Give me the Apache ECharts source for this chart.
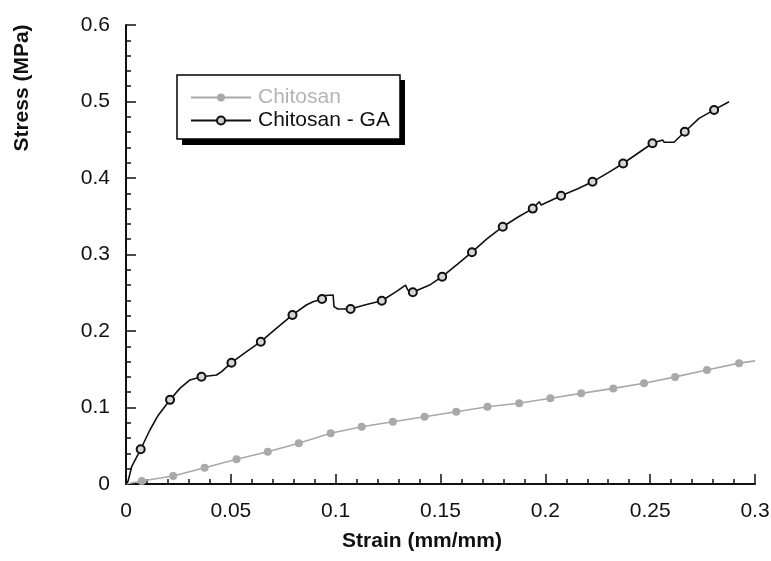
<!DOCTYPE html>
<html>
<head>
<meta charset="utf-8">
<script src="https://cdn.jsdelivr.net/npm/echarts@6/dist/echarts.min.js"></script>
<style>
  html, body { margin: 0; padding: 0; background: #fff; }
  #chart { width: 771px; height: 561px; }
</style>
</head>
<body>
<div id="chart"></div>
<script>
// Tensile curves: stress vs. strain for plain chitosan and GA-crosslinked chitosan films

// Chitosan: continuous curve and its marked points
const chiStrain = [0, 0.0075, 0.0225, 0.0375, 0.0527, 0.0676, 0.0824, 0.0976, 0.1124, 0.1273, 0.1424,
  0.1575, 0.1724, 0.1875, 0.2024, 0.2171, 0.2324, 0.2471, 0.2619, 0.2771, 0.2924, 0.3];
const chiStress = [0, 0.004, 0.0105, 0.0213, 0.0323, 0.0422, 0.0532, 0.0663, 0.0749, 0.0814, 0.088,
  0.0945, 0.101, 0.1055, 0.112, 0.1185, 0.125, 0.1316, 0.140, 0.149, 0.158, 0.161];
const chiMarkStrain = [0.0075, 0.0225, 0.0375, 0.0527, 0.0676, 0.0824, 0.0976, 0.1124, 0.1273, 0.1424,
  0.1575, 0.1724, 0.1875, 0.2024, 0.2171, 0.2324, 0.2471, 0.2619, 0.2771, 0.2924];
const chiMarkStress = [0.004, 0.0105, 0.0213, 0.0323, 0.0422, 0.0532, 0.0663, 0.0749, 0.0814, 0.088,
  0.0945, 0.101, 0.1055, 0.112, 0.1185, 0.125, 0.1316, 0.140, 0.149, 0.158];

// Chitosan - GA: continuous curve (with its load drops) and its marked points
const gaStrain = [0, 0.001, 0.0027, 0.007, 0.0114, 0.0154, 0.021, 0.0257, 0.0305, 0.036, 0.0432, 0.0456,
  0.0503, 0.0575, 0.0643, 0.0717, 0.0794, 0.086, 0.0892, 0.0935, 0.095, 0.0988, 0.0992, 0.101, 0.1071,
  0.1138, 0.122, 0.1289, 0.1333, 0.1344, 0.1368, 0.1448, 0.1508, 0.158, 0.165, 0.172, 0.1797, 0.187,
  0.194, 0.1971, 0.198, 0.2075, 0.2155, 0.2225, 0.230, 0.2371, 0.240, 0.2511, 0.2559, 0.2567, 0.2614,
  0.2665, 0.2733, 0.2805, 0.2876];
const gaStress = [0, 0.004, 0.0226, 0.0454, 0.0706, 0.090, 0.110, 0.125, 0.136, 0.1403, 0.1425, 0.147,
  0.1586, 0.173, 0.186, 0.2035, 0.221, 0.234, 0.2383, 0.2418, 0.2465, 0.247, 0.2318, 0.2288, 0.2288,
  0.234, 0.2396, 0.2514, 0.260, 0.2536, 0.2506, 0.260, 0.271, 0.287, 0.303, 0.320, 0.3363, 0.349,
  0.360, 0.369, 0.3647, 0.3769, 0.386, 0.395, 0.407, 0.419, 0.4245, 0.4454, 0.4497, 0.4467, 0.4467,
  0.4605, 0.478, 0.489, 0.4997];
const gaMarkStrain = [0.007, 0.021, 0.036, 0.0503, 0.0643, 0.0794, 0.0935, 0.1071, 0.122, 0.1368,
  0.1508, 0.165, 0.1797, 0.194, 0.2075, 0.2225, 0.2371, 0.2511, 0.2665, 0.2805];
const gaMarkStress = [0.0454, 0.110, 0.1403, 0.1586, 0.186, 0.221, 0.2418, 0.2288, 0.2396, 0.2506,
  0.271, 0.303, 0.3363, 0.360, 0.3769, 0.395, 0.419, 0.4454, 0.4605, 0.489];

const xTicks = { min: 0, max: 0.3, interval: 0.05 };
const yTicks = { min: 0, max: 0.6, interval: 0.1 };

const FONT = '"Liberation Sans", Arial, sans-serif';
const GRAY = '#a9a9a9';
const DARK = '#111';

const pairs = (xs, ys) => xs.map((x, i) => [x, ys[i]]);

const axisCommon = {
  type: 'value',
  axisLine: { show: true, onZero: false, lineStyle: { color: DARK, width: 2 } },
  axisTick: { show: true, inside: true, length: 10, lineStyle: { color: DARK, width: 1.5 } },
  minorTick: { show: true, splitNumber: 5, length: 5, lineStyle: { color: DARK, width: 1.5 } },
  splitLine: { show: false },
  minorSplitLine: { show: false },
  axisLabel: { color: DARK, fontSize: 21, fontFamily: FONT }
};

const chart = echarts.init(document.getElementById('chart'), null, { renderer: 'canvas' });

chart.setOption({
  animation: false,
  backgroundColor: '#fff',
  grid: { left: 126, right: 16, top: 25, bottom: 77, containLabel: false, outerBoundsMode: 'none' },
  xAxis: Object.assign({}, axisCommon, {
    min: xTicks.min, max: xTicks.max, interval: xTicks.interval,
    axisLabel: Object.assign({}, axisCommon.axisLabel, { margin: 17 })
  }),
  yAxis: Object.assign({}, axisCommon, {
    min: yTicks.min, max: yTicks.max, interval: yTicks.interval,
    axisLabel: Object.assign({}, axisCommon.axisLabel, { margin: 16 })
  }),
  legend: {
    orient: 'vertical',
    left: 177, top: 75,
    padding: [12, 10, 14, 13],
    itemWidth: 60, itemHeight: 10, itemGap: 2,
    textStyle: { fontSize: 21, fontFamily: FONT, lineHeight: 21, padding: [0, 0, 0, 2] },
    data: [
      { name: 'Chitosan', textStyle: { color: '#b4b4b8' } },
      { name: 'Chitosan - GA', textStyle: { color: DARK } }
    ],
    z: 10
  },
  graphic: [
    // legend frame with its drop shadow
    { type: 'rect', z: 1, shape: { x: 182, y: 80, width: 223, height: 65 }, style: { fill: '#000' } },
    { type: 'rect', z: 2, shape: { x: 177, y: 75, width: 223, height: 64 }, style: { fill: '#fff', stroke: '#000', lineWidth: 1.5 } },
    {
      type: 'text', x: 22, y: 88, rotation: Math.PI / 2,
      style: { text: 'Stress (MPa)', fill: DARK, font: 'bold 21px ' + FONT, textAlign: 'center', textVerticalAlign: 'middle' }
    },
    {
      type: 'text', x: 422, y: 541,
      style: { text: 'Strain (mm/mm)', fill: DARK, font: 'bold 21px ' + FONT, textAlign: 'center', textVerticalAlign: 'middle' }
    }
  ],
  series: [
    {
      name: 'Chitosan', type: 'line', data: pairs(chiStrain, chiStress),
      showSymbol: false, symbol: 'circle',
      lineStyle: { color: GRAY, width: 1.6 },
      itemStyle: { color: GRAY, borderColor: GRAY, borderWidth: 0 },
      z: 2
    },
    {
      name: 'Chitosan', type: 'scatter', data: pairs(chiMarkStrain, chiMarkStress),
      symbol: 'circle', symbolSize: 8,
      itemStyle: { color: GRAY, opacity: 1 },
      z: 3
    },
    {
      name: 'Chitosan - GA', type: 'line', data: pairs(gaStrain, gaStress),
      showSymbol: false, symbol: 'circle',
      lineStyle: { color: DARK, width: 1.6 },
      itemStyle: { color: '#cfcfcf', borderColor: DARK, borderWidth: 2 },
      z: 4
    },
    {
      name: 'Chitosan - GA', type: 'scatter', data: pairs(gaMarkStrain, gaMarkStress),
      symbol: 'circle', symbolSize: 8,
      itemStyle: { color: '#d6d6d6', borderColor: DARK, borderWidth: 2, opacity: 1 },
      z: 5
    }
  ]
});
</script>
</body>
</html>
